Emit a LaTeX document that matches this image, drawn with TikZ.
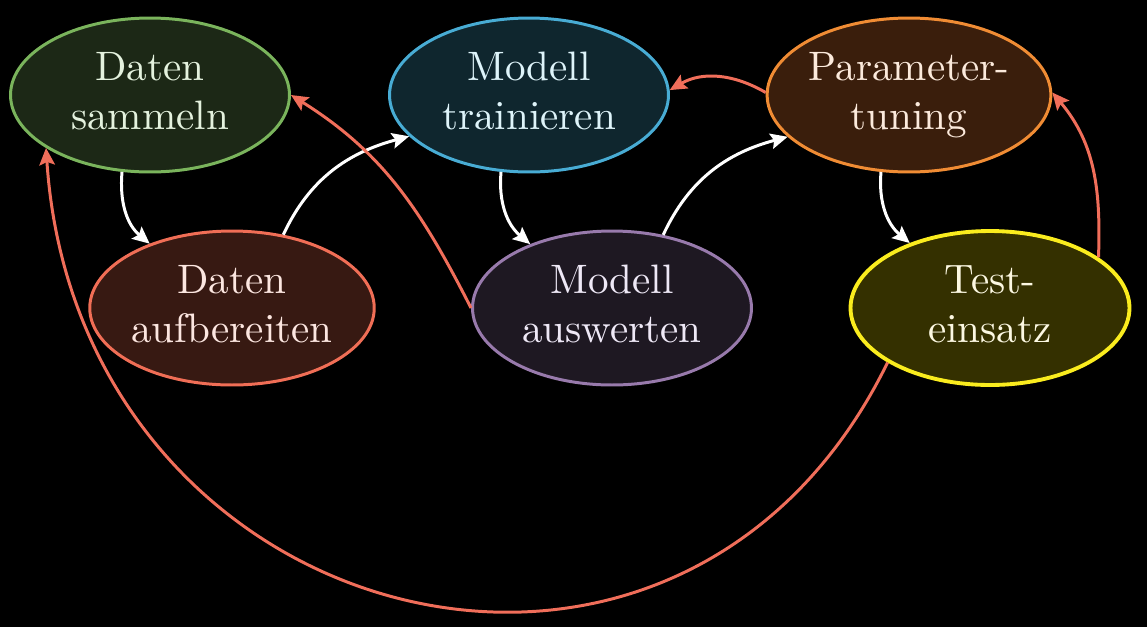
\documentclass[tikz,border=0pt]{standalone}
\usepackage{graphicx}
\usetikzlibrary{shapes.geometric,arrows.meta}
\definecolor{gfill}{RGB}{28,40,22}\definecolor{gline}{RGB}{122,180,92}\definecolor{gtext}{RGB}{228,242,222}
\definecolor{bfill}{RGB}{15,38,46}\definecolor{bline}{RGB}{72,172,212}\definecolor{btext}{RGB}{222,244,250}
\definecolor{ofill}{RGB}{58,30,12}\definecolor{oline}{RGB}{240,140,52}\definecolor{otext}{RGB}{252,234,220}
\definecolor{rfill}{RGB}{55,25,18}\definecolor{rline}{RGB}{240,110,86}\definecolor{rtext}{RGB}{252,230,224}
\definecolor{pfill}{RGB}{30,24,34}\definecolor{pline}{RGB}{152,122,172}\definecolor{ptext}{RGB}{238,232,246}
\definecolor{yfill}{RGB}{52,48,0}\definecolor{yline}{RGB}{250,236,30}\definecolor{ytext}{RGB}{252,248,226}
\definecolor{back}{RGB}{240,110,90}
\newcommand\stagetext[2]{\scalebox{2.34}{\begin{tabular}{@{}c@{}}#1\\#2\end{tabular}}}
\tikzset{
  stage/.style={ellipse,draw,line width=1.7pt,inner sep=0pt,minimum width=5.58cm,minimum height=3.08cm,align=center},
  fwd/.style={draw=white,line width=1.7pt,-{Stealth[length=0.34cm,width=0.31cm,inset=0.06cm]}},
  bwd/.style={draw=back,line width=1.7pt,-{Stealth[length=0.34cm,width=0.31cm,inset=0.06cm]}}
}
\begin{document}
\begin{tikzpicture}[x=0.02cm,y=-0.02cm]
\fill[black] (0,0) rectangle (1147,627);
\useasboundingbox (0,0) rectangle (1147,627);
\node[stage,fill=gfill,draw=gline,text=gtext] (s) at (150,95) {\stagetext{Daten}{sammeln}};
\node[stage,fill=bfill,draw=bline,text=btext] (m) at (529,95) {\stagetext{Modell}{trainieren}};
\node[stage,fill=ofill,draw=oline,text=otext] (p) at (909,95) {\stagetext{Parameter-}{tuning}};
\node[stage,fill=rfill,draw=rline,text=rtext] (a) at (232,308) {\stagetext{Daten}{aufbereiten}};
\node[stage,fill=pfill,draw=pline,text=ptext] (e) at (612,308) {\stagetext{Modell}{auswerten}};
\node[stage,fill=yfill,draw=yline,text=ytext,line width=2.2pt] (t) at (990,308) {\stagetext{Test-}{einsatz}};
\draw[fwd] (s.250) to[out=-95,in=140] (a.142);
\draw[fwd] (a.55) to[out=65,in=195] (m.199);
\draw[fwd] (m.250) to[out=-95,in=140] (e.142);
\draw[fwd] (e.55) to[out=65,in=195] (p.199);
\draw[fwd] (p.250) to[out=-95,in=140] (t.141);
\draw[bwd] (t.25) to[out=88,in=-50] (p.1);
\draw[bwd] (p.179) to[out=150,in=30] (m.2);
\draw[bwd] (e.180) to[out=117,in=-32] (s.0);
\draw[bwd] (t.208) .. controls +(-210,429) and +(32,483) .. (s.207);
\end{tikzpicture}
\end{document}
